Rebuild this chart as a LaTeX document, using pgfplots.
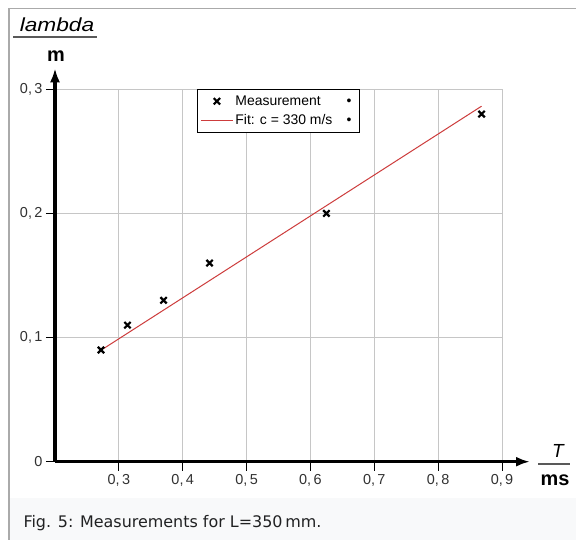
\documentclass[border=0pt]{standalone}
\usepackage{fontspec}
\setmainfont{Liberation Sans}
\newfontfamily\captionfont{DejaVu Sans}
\usepackage{pgfplots}
\pgfplotsset{compat=1.18}
\usetikzlibrary{arrows.meta}
\definecolor{fitred}{RGB}{205,60,60}
\definecolor{capbg}{RGB}{248,249,250}
\definecolor{framegray}{RGB}{170,170,170}
\definecolor{ticktext}{RGB}{50,50,50}
\definecolor{captext}{RGB}{32,33,34}

\begin{document}
\begin{tikzpicture}
\fill[white] (0,0) rectangle (576bp,540bp);
\useasboundingbox (0,0) rectangle (576bp,540bp);
% caption bar and frame
\fill[capbg] (9bp,0) rectangle (576bp,42bp);
\draw[framegray, line width=1.5bp] (9bp,0) -- (9bp,531.5bp) -- (576bp,531.5bp);

\begin{axis}[
  scale only axis, width=447bp, height=372.4bp,
  at={(55bp,78.3bp)}, anchor=south west,
  xmin=0.2, xmax=0.9, ymin=0, ymax=0.3,
  axis lines=left,
  axis line style={line width=3bp, -{Latex[length=14bp,width=10bp]}},
  x axis line style={shorten >=-28bp},
  y axis line style={shorten >=-21bp},
  xtick={0.3,0.4,0.5,0.6,0.7,0.8,0.9},
  ytick={0,0.1,0.2,0.3},
  grid=major, grid style={line width=0.8bp, gray!45},
  tick align=outside, major tick length=9bp,
  tick style={black, line width=0.8bp},
  ticklabel style={font=\fontsize{14.5}{16}\selectfont, text=ticktext},
  /pgf/number format/assume math mode=true,
  /pgf/number format/use comma,
  /pgf/number format/fixed,
  /pgf/number format/precision=1,
  /pgf/number format/set decimal separator={,\,},
  legend style={at={(0.3177,1.0)}, anchor=north west, draw=black,
    line width=0.8bp, fill=white, font=\fontsize{14}{16}\selectfont,
    inner xsep=3bp, inner ysep=4bp, row sep=4bp},
  legend cell align=left,
  legend image code/.code={\draw[mark repeat=2,mark phase=2,#1]
    plot coordinates {(0bp,0bp) (16bp,0bp) (32bp,0bp)};},
]
\addplot[only marks, mark=x, mark size=4.5bp, line width=2.2bp, black]
  coordinates {(0.272,0.090) (0.3135,0.110) (0.370,0.130)
               (0.442,0.160) (0.625,0.200) (0.868,0.280)};
\addlegendentry{\makebox[119bp][l]{Measurement\hfill\textbullet\hspace{3bp}}}
\addplot[fitred, line width=1bp, no marks]
  coordinates {(0.276,0.0911) (0.868,0.2864)};
\addlegendentry{\makebox[119bp][l]{Fit: c = 330 m/s\hfill\textbullet\hspace{3bp}}}
\end{axis}

% axis labels as fractions
\node[anchor=base, font=\itshape\fontsize{19}{22}\selectfont] at (57bp,508bp) {\scalebox{1.2}[1]{lambda}};
\draw[gray!70!black, line width=1.2bp] (13bp,503bp) -- (97bp,503bp);
\node[anchor=base, font=\bfseries\fontsize{20}{24}\selectfont] at (56bp,478bp) {m};
\node[anchor=base, font=\itshape\fontsize{19}{22}\selectfont] at (558bp,82bp) {T};
\draw[gray!70!black, line width=1.2bp] (538bp,76bp) -- (570bp,76bp);
\node[anchor=base, font=\bfseries\fontsize{20}{24}\selectfont] at (555bp,54bp) {ms};

\node[anchor=base west, text=captext, font=\captionfont\fontsize{16}{19}\selectfont] at (20bp,13bp) {Fig. 5: Measurements for L=350\,mm.};
\end{tikzpicture}
\end{document}
